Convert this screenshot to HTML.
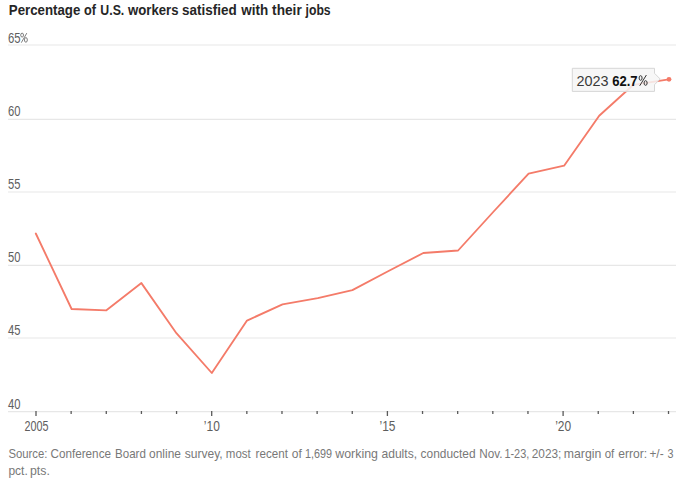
<!DOCTYPE html>
<html><head><meta charset="utf-8">
<style>
html,body{margin:0;padding:0;background:#fff;width:680px;height:486px;overflow:hidden;}
svg{position:absolute;left:0;top:0;}
text{font-family:"Liberation Sans",sans-serif;}
</style></head>
<body>
<svg width="680" height="486" viewBox="0 0 680 486">
  <g font-size="14" font-weight="bold" fill="#262626">
    <text transform="translate(8.8,14.7) scale(0.949,1)">Percentage</text>
    <text transform="translate(84.1,14.7) scale(0.907,1)">of</text>
    <text transform="translate(100.3,14.7) scale(0.881,1)">U.S.</text>
    <text transform="translate(128.04,14.7) scale(0.94,1)">workers</text>
    <text transform="translate(182.1,14.7) scale(0.963,1)">satisfied</text>
    <text transform="translate(241.26,14.7) scale(0.962,1)">with</text>
    <text transform="translate(272.1,14.7) scale(0.977,1)">their</text>
    <text transform="translate(305.57,14.7) scale(0.873,1)">jobs</text>
  </g>
  <g stroke="#e7e7e7" stroke-width="1.1">
    <line x1="8" x2="676" y1="45" y2="45"/><line x1="8" x2="676" y1="119.4" y2="119.4"/><line x1="8" x2="676" y1="192" y2="192"/><line x1="8" x2="676" y1="265.4" y2="265.4"/><line x1="8" x2="676" y1="338" y2="338"/><line x1="8" x2="676" y1="411.6" y2="411.6"/>
  </g>
  <g font-size="14" fill="#5e5e5e">
    <text transform="translate(8,42.7) scale(0.81,1)">65</text>
    <g fill="none" stroke="#5e5e5e" stroke-width="0.8"><ellipse cx="22.1" cy="35.1" rx="1.4" ry="1.95"/><ellipse cx="25.9" cy="39.9" rx="1.45" ry="2.3"/><path d="M26.8 33.1L21.3 42.7"/></g>
    <text transform="translate(8,116.2) scale(0.8,1)">60</text>
    <text transform="translate(8,189.3) scale(0.8,1)">55</text>
    <text transform="translate(8,261.7) scale(0.8,1)">50</text>
    <text transform="translate(8,334.6) scale(0.8,1)">45</text>
    <text transform="translate(8,409) scale(0.8,1)">40</text>
  </g>
  <g stroke="#5a5a5a" stroke-width="1.3">
    <path d="M36.00 411V416.1M211.70 411V416.1M387.40 411V416.1M563.10 411V416.1"/>
    <path d="M71.14 411V414M106.28 411V414M141.42 411V414M176.56 411V414M246.84 411V414M281.98 411V414M317.12 411V414M352.26 411V414M422.54 411V414M457.68 411V414M492.82 411V414M527.96 411V414M598.24 411V414M633.38 411V414M668.52 411V414"/>
  </g>
  <g font-size="14.6" fill="#5e5e5e" text-anchor="middle">
    <text transform="translate(36.4,430.6) scale(0.74,1)">2005</text>
    <text transform="translate(211.8,430.6) scale(0.82,1)">’10</text>
    <text transform="translate(387.5,430.6) scale(0.82,1)">’15</text>
    <text transform="translate(563.2,430.6) scale(0.82,1)">’20</text>
  </g>
  <polyline fill="none" stroke="#f47b69" stroke-width="1.85" stroke-linecap="round" stroke-linejoin="round" points="35.8,233.5 71.6,309 106.4,310.3 141.4,283.1 176.4,333.2 211.8,373 247,320.6 282.5,304.3 317.8,298.2 352.4,290.1 387.6,271.5 423.3,253 458.1,250.5 493.2,212 528.6,173.6 564.1,165.7 599.2,115.7 633.4,84.8 668.8,79.3"/>
  <circle cx="669" cy="79.3" r="2.4" fill="#f47b69"/>
  <path d="M572.3 68.3H654.5V73.3L660.2 79L654.5 84.7V91.4H572.3Z" fill="#f6f6f6" fill-opacity="0.85" stroke="#d6d6d6" stroke-width="1"/>
  <text transform="translate(576.5,85.9) scale(0.96,1)" font-size="15" fill="#3a3a3a">2023</text>
  <text transform="translate(612.2,85.9) scale(0.87,1)" font-size="15" font-weight="bold" fill="#111">62.7</text>
  <g fill="none" stroke="#2a2a2a" stroke-width="0.95"><ellipse cx="640.6" cy="78" rx="1.5" ry="2.3"/><ellipse cx="645.6" cy="83" rx="1.55" ry="2.3"/><path d="M646.4 75L639.7 85.8"/></g>
  <g font-size="13" fill="#787878">
    <text transform="translate(8.5,458.4) scale(0.87,1)">Source:</text>
    <text transform="translate(50.5,458.4) scale(0.901,1)">Conference</text>
    <text transform="translate(115.0,458.4) scale(0.891,1)">Board</text>
    <text transform="translate(149.1,458.4) scale(0.917,1)">online</text>
    <text transform="translate(184.7,458.4) scale(0.928,1)">survey,</text>
    <text transform="translate(225.8,458.4) scale(0.886,1)">most</text>
    <text transform="translate(255.6,458.4) scale(0.897,1)">recent</text>
    <text transform="translate(291.8,458.4) scale(0.925,1)">of</text>
    <text transform="translate(304.9,458.4) scale(0.833,1)">1,699</text>
    <text transform="translate(335.3,458.4) scale(0.953,1)">working</text>
    <text transform="translate(381.5,458.4) scale(0.929,1)">adults,</text>
    <text transform="translate(420.6,458.4) scale(0.917,1)">conducted</text>
    <text transform="translate(479.2,458.4) scale(0.904,1)">Nov.</text>
    <text transform="translate(504.4,458.4) scale(0.841,1)">1-23,</text>
    <text transform="translate(531.8,458.4) scale(0.909,1)">2023;</text>
    <text transform="translate(563.8,458.4) scale(0.943,1)">margin</text>
    <text transform="translate(604.7,458.4) scale(0.883,1)">of</text>
    <text transform="translate(618.2,458.4) scale(0.929,1)">error:</text>
    <text transform="translate(649.4,458.4) scale(0.919,1)">+/-</text>
    <text transform="translate(667.4,458.4) scale(0.829,1)">3</text>
    <text transform="translate(8.4,474.8) scale(0.925,1)">pct.</text>
    <text transform="translate(30.0,474.8) scale(0.95,1)">pts.</text>
  </g>
</svg>
</body></html>
